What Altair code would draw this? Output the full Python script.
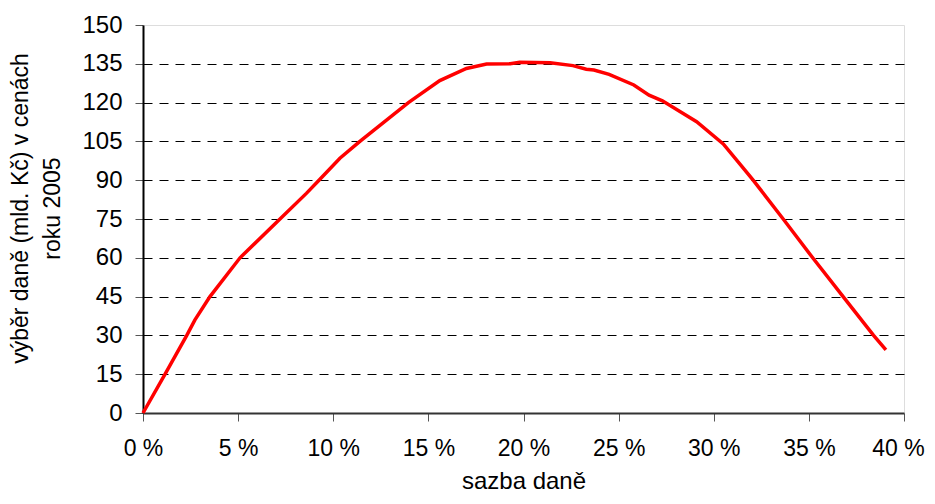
import altair as alt
import pandas as pd

# tax rate (%) and tax revenue (bn CZK, 2005 prices)
rate = [0, 1.16, 2.3, 2.73, 3.52, 5.1, 7.2, 8.6, 9.25, 10.35, 11.4, 13.95, 15.6,
        17.0, 18.06, 19.3, 19.8, 21.4, 22.6, 23.3, 23.7, 24.5, 25.8, 26.6, 27.3,
        29.1, 30.5, 31.4, 32.07, 33.65, 35.2, 36.8, 38.4, 39.05]
revenue = [0, 15, 30, 36, 45, 60, 75, 85, 90, 98.5, 105, 120, 128.5,
           133.2, 134.9, 135, 135.6, 135.4, 134.3, 132.9, 132.6, 130.9, 126.8, 122.9, 120.7,
           112.6, 104, 96, 90, 75, 60, 45, 30, 24.4]
x_ticks = [0, 5, 10, 15, 20, 25, 30, 35, 40]
y_ticks = [0, 15, 30, 45, 60, 75, 90, 105, 120, 135, 150]

df = pd.DataFrame({"rate": rate, "revenue": revenue, "order": list(range(len(rate)))})

FONT = "Liberation Sans"

chart = alt.Chart(df).mark_line(color="#FF0000", strokeWidth=3.5).encode(
    x=alt.X("rate:Q",
            scale=alt.Scale(domain=[0, 40], nice=False, zero=False),
            axis=alt.Axis(values=x_ticks, labelExpr="datum.value + ' %'",
                          title="sazba daně", grid=False,
                          domainColor="#333333", domainWidth=2,
                          tickColor="#555555", tickWidth=1, tickSize=8,
                          labelPadding=16, titlePadding=9,
                          labelFontSize=23, titleFontSize=24,
                          labelOffset={"condition": {"test": "datum.value === 40", "value": -6}, "value": 0},
                          labelFont=FONT, titleFont=FONT,
                          labelColor="black", titleColor="black",
                          titleFontWeight="normal", labelFlush=False)),
    y=alt.Y("revenue:Q",
            scale=alt.Scale(domain=[0, 150], nice=False),
            axis=alt.Axis(values=y_ticks, title=["výběr daně (mld. Kč) v cenách", "roku 2005"],
                          grid=True, gridColor="black", gridDash=[9, 7], gridWidth=1,
                          gridOpacity={"condition": {"test": "datum.value === 150 || datum.value === 0", "value": 0}, "value": 1},
                          domainColor="black", domainWidth=2,
                          tickColor="#555555", tickWidth=1, tickSize=8,
                          labelPadding=13, titlePadding=17,
                          labelFontSize=24, titleFontSize=23,
                          labelFont=FONT, titleFont=FONT,
                          labelColor="black", titleColor="black",
                          titleFontWeight="normal", titleLineHeight=32,
                          titleY=183,
                          labelFlush=False)),
    order="order:Q",
).properties(
    width=761, height=388,
    autosize=alt.AutoSizeParams(type="none"),
    padding={"left": 135, "top": 17, "right": 23, "bottom": 82},
).configure_view(
    stroke="#888888", strokeWidth=2
).configure(background="white")

chart.save("out.html", embed_options={"renderer": "svg", "actions": False})
